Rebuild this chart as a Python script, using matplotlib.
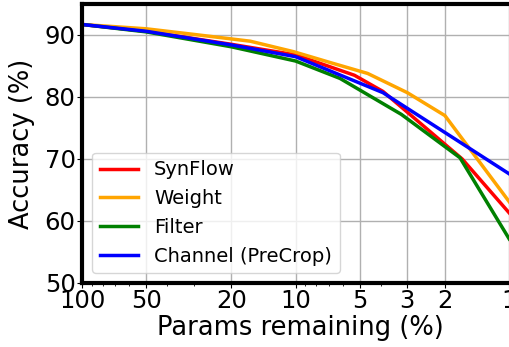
import matplotlib
matplotlib.use('Agg')
import matplotlib.pyplot as plt
from matplotlib.ticker import FixedLocator, FixedFormatter, NullFormatter

# data
synflow_x = [100, 50, 20, 10, 5.3, 3.9, 1.66, 1]
synflow_y = [91.7, 90.6, 88.5, 86.8, 83.5, 80.9, 70.0, 61.3]

weight_x = [100, 50, 30, 16.3, 10.2, 6.8, 4.6, 3.0, 2.0, 1]
weight_y = [91.7, 91.0, 90.1, 89.0, 87.3, 85.5, 83.8, 80.7, 77.0, 63.1]

filter_x = [100, 50, 20, 10, 6.2, 3.2, 1.7, 1]
filter_y = [91.7, 90.5, 88.1, 85.8, 83.0, 77.2, 70.2, 57.1]

channel_x = [100, 50, 20, 10, 3.9, 1]
channel_y = [91.7, 90.6, 88.4, 86.5, 80.7, 67.6]

xticks = [100, 50, 20, 10, 5, 3, 2, 1]
xtick_labels = ['100', '50', '20', '10', '5', '3', '2', '1']
yticks = [50, 60, 70, 80, 90]

fig = plt.figure(figsize=(5.09, 3.47), dpi=100)
# axes runs a little past the right edge of the picture, like the reference crop
ax = fig.add_axes([82 / 509, 64 / 347, 437 / 509, 279 / 347])

ax.plot(synflow_x, synflow_y, color='red', lw=2.5, label='SynFlow')
ax.plot(weight_x, weight_y, color='orange', lw=2.5, label='Weight')
ax.plot(filter_x, filter_y, color='green', lw=2.5, label='Filter')
ax.plot(channel_x, channel_y, color='blue', lw=2.5, label='Channel (PreCrop)')

ax.set_xscale('log')
ax.set_xlim(100, 0.9)
ax.set_ylim(50, 95)
ax.xaxis.set_major_locator(FixedLocator(xticks))
ax.xaxis.set_major_formatter(FixedFormatter(xtick_labels))
ax.xaxis.set_minor_formatter(NullFormatter())
ax.set_yticks(yticks)
ax.tick_params(axis='both', which='major', labelsize=17.5, pad=1)
ax.grid(True, color='#b0b0b0', lw=1)

for s in ax.spines.values():
    s.set_linewidth(3)

ax.set_xlabel('Params remaining (%)', fontsize=18.5, labelpad=1)
ax.set_ylabel('Accuracy (%)', fontsize=18.5, labelpad=7)
ax.legend(loc='lower left', fontsize=14, handlelength=2.0, labelspacing=0.5)

fig.savefig('out.png', dpi=100)
